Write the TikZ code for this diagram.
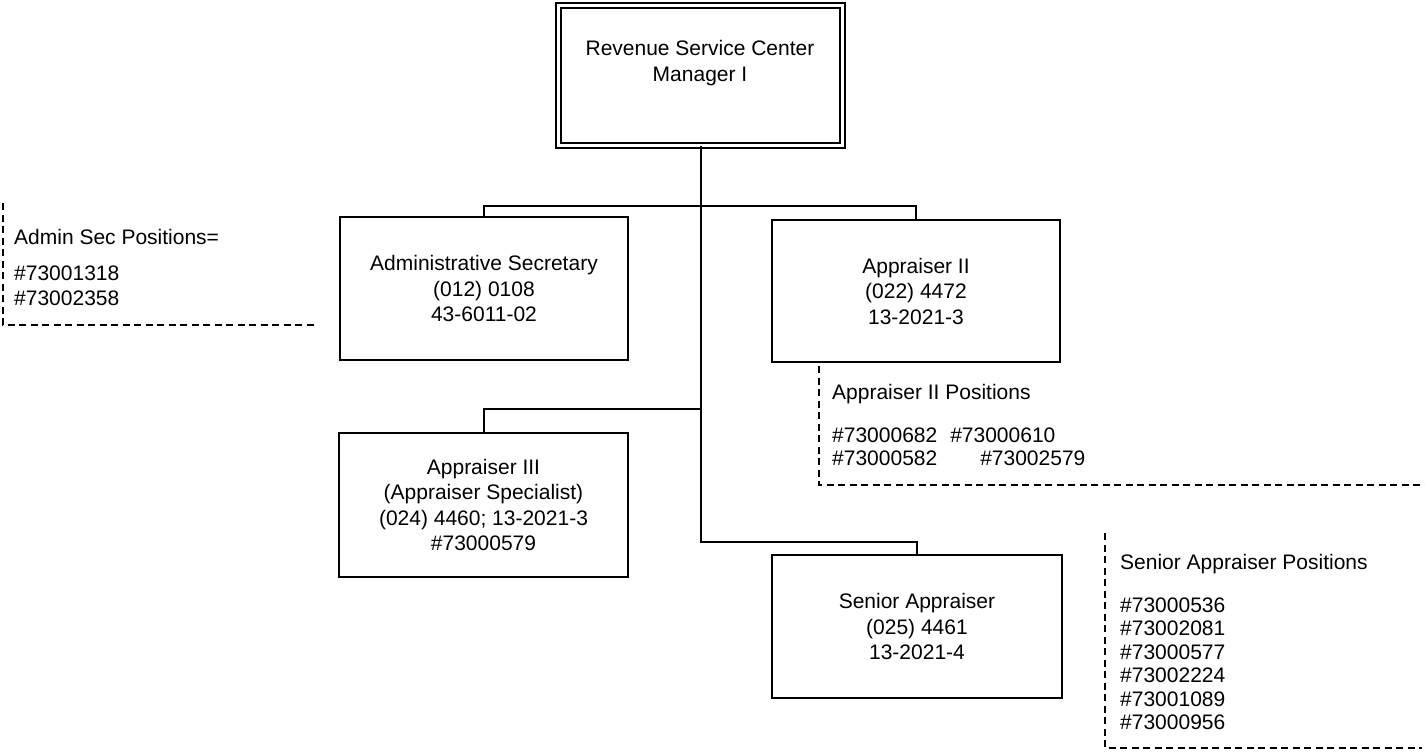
\documentclass[tikz,border=0pt]{standalone}
\usepackage{fontspec}
\setmainfont{Liberation Sans}
\usetikzlibrary{calc}
\begin{document}
\begin{tikzpicture}[x=1pt,y=-1pt,
  txt/.style={font=\fontsize{21}{25.5}\selectfont, inner sep=0pt},
  orgbox/.style={txt, draw, line width=2pt, align=center},
  conn/.style={line width=2pt},
  note/.style={line width=1.3pt, dash pattern=on 7pt off 4.5pt},
  notetxt/.style={txt, align=left, anchor=base west}]
\useasboundingbox (0,0) rectangle (1425,752);

% head of the office
\node[draw, double, line width=1.7pt, double distance=3.3pt,
      minimum width=284pt, minimum height=140pt, inner sep=0pt] (mgr) at (700.5,75.5) {};
\node[txt, align=center] (mgrtitle) at (700,63) {Revenue Service Center\\Manager I};

% positions
\node[orgbox, minimum width=288pt, minimum height=143pt] (admin) at (484,288.5)
  {Administrative Secretary\\(012) 0108\\43-6011-02};
\node[orgbox, minimum width=288pt, minimum height=142pt] (app2) at (916,291)
  {Appraiser II\\(022) 4472\\13-2021-3};
\node[orgbox, minimum width=289pt, minimum height=144pt] (app3) at (483.5,505)
  {Appraiser III\\(Appraiser Specialist)\\(024) 4460; 13-2021-3\\\#73000579};
\node[orgbox, minimum width=290pt, minimum height=143pt] (senior) at (917,626.5)
  {Senior Appraiser\\(025) 4461\\13-2021-4};

% reporting lines
\coordinate (tap3) at (700,409);
\draw[conn] (mgr.south) |- ($(senior.north)+(0,-12)$) -- (senior.north);
\draw[conn] (admin.north) -- ++(0,-10) -| (app2.north);
\draw[conn] (app3.north) |- (tap3);

% position number notes (multi-line nodes sit on their last baseline)
\draw[note] (3,203) -- (3,325) -- (318,325);
\node[notetxt] (adminhead) at (14,244) {Admin Sec Positions=};
\node[notetxt, font=\fontsize{21}{25}\selectfont] (adminnums) at (14,305) {\#73001318\\\#73002358};

\draw[note] (819,366) -- (819,485) -- (1425,485);
\node[notetxt] (app2head) at (832,399.5) {Appraiser II Positions};
\node[notetxt, font=\fontsize{21}{23}\selectfont] (app2nums) at (832,465.5)
  {\#73000682\hspace{13pt}\#73000610\\\#73000582\hspace{43pt}\#73002579};

\draw[note] (1105,533) -- (1105,748) -- (1422,748);
\node[notetxt] (srhead) at (1120,569.5) {Senior Appraiser Positions};
\node[notetxt, font=\fontsize{21}{23.4}\selectfont] (srnums) at (1120,729.5)
  {\#73000536\\\#73002081\\\#73000577\\\#73002224\\\#73001089\\\#73000956};
\end{tikzpicture}
\end{document}
